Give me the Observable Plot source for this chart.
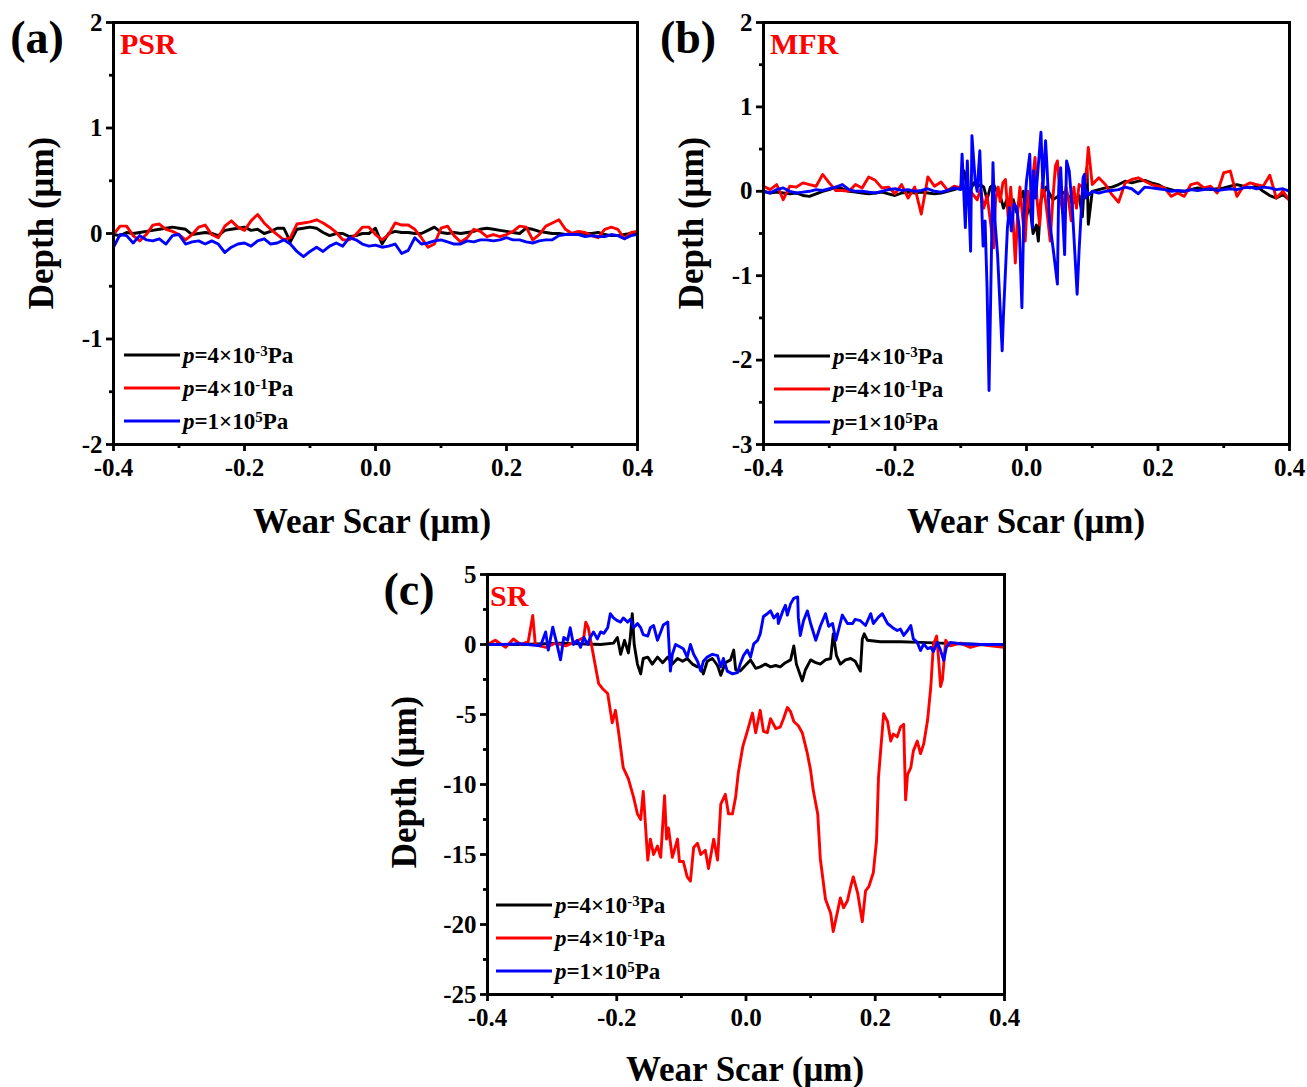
<!DOCTYPE html>
<html>
<head>
<meta charset="utf-8">
<script src="https://cdn.jsdelivr.net/npm/d3@7"></script>
<script src="https://cdn.jsdelivr.net/npm/@observablehq/plot@0.6"></script>
<style>
  html, body { margin: 0; padding: 0; background: #fff; overflow: hidden; }
  #page { position: relative; width: 1307px; height: 1087px; overflow: hidden;
          font-family: "Liberation Serif", "Times New Roman", serif; font-weight: bold; color: #000; }
  .t { position: absolute; white-space: nowrap; line-height: 1; }
  .leg { position: absolute; display: flex; align-items: center; white-space: nowrap; line-height: 1;
         transform: translateY(-50%); font-size: 23px; }
  .leg .ln { display: inline-block; width: 56px; height: 3px; margin-right: 3px; }
  .sup { font-size: 0.65em; position: relative; top: -0.5em; }
</style>
</head>
<body>
<div id="page"></div>
<script>
// ---------------- DATA ----------------
const seriesNames = ["p=4×10^-3 Pa", "p=4×10^-1 Pa", "p=1×10^5 Pa"];
const seriesColors = ["#000000", "#ff0000", "#0000ff"];
const xMajorTicks = [-0.4, -0.2, 0.0, 0.2, 0.4];
const xMinorTicks = [-0.3, -0.1, 0.1, 0.3];

// Panel (a) PSR — common x grid
const aX = [-0.40,-0.39,-0.38,-0.37,-0.36,-0.35,-0.34,-0.33,-0.32,-0.31,-0.30,-0.29,-0.28,-0.27,-0.26,-0.25,-0.24,-0.23,-0.22,-0.21,
  -0.20,-0.19,-0.18,-0.17,-0.16,-0.15,-0.14,-0.13,-0.12,-0.11,-0.10,-0.09,-0.08,-0.07,-0.06,-0.05,-0.04,-0.03,-0.02,-0.01,
  0.00,0.01,0.02,0.03,0.04,0.05,0.06,0.07,0.08,0.09,0.10,0.11,0.12,0.13,0.14,0.15,0.16,0.17,0.18,0.19,
  0.20,0.21,0.22,0.23,0.24,0.25,0.26,0.27,0.28,0.29,0.30,0.31,0.32,0.33,0.34,0.35,0.36,0.37,0.38,0.39,0.40];
const aBlack = [-0.01,-0.02,0.01,0.00,0.01,0.02,0.03,0.04,0.05,0.06,0.05,0.04,-0.01,0.00,0.01,0.00,-0.02,0.03,0.04,0.05,
  0.06,0.03,0.04,0.00,0.02,0.05,0.05,-0.08,0.04,0.05,0.06,0.05,0.01,-0.02,0.00,0.00,-0.03,-0.02,0.00,0.00,
  0.05,-0.10,0.00,0.02,0.01,0.01,0.00,0.00,0.03,0.06,0.01,0.00,0.01,0.00,0.01,0.02,0.04,0.05,0.04,0.03,
  0.02,0.01,0.00,0.05,0.04,0.02,0.01,0.00,0.00,-0.01,0.00,0.01,0.00,0.00,0.01,-0.01,-0.02,-0.02,-0.01,0.00,0.01];
const aRed = [-0.01,0.07,0.07,-0.02,-0.07,-0.01,0.08,0.09,0.04,0.02,-0.01,-0.06,-0.01,0.06,0.08,-0.01,-0.04,0.07,0.12,0.06,
  0.03,0.12,0.18,0.10,0.04,-0.01,-0.06,-0.04,0.09,0.10,0.11,0.13,0.10,0.06,0.01,-0.06,-0.06,-0.01,0.06,0.06,
  -0.01,-0.06,-0.01,0.10,0.08,0.08,0.04,-0.04,-0.13,-0.10,0.05,0.07,-0.02,-0.08,-0.04,0.04,0.02,-0.03,-0.01,-0.03,
  -0.01,0.02,0.07,0.06,-0.06,-0.01,0.07,0.10,0.13,0.04,0.00,0.02,0.01,-0.02,-0.04,0.04,0.06,0.04,-0.05,0.01,0.02];
const aBlue = [-0.13,-0.01,-0.02,-0.09,-0.02,-0.06,-0.07,-0.05,-0.10,-0.02,-0.01,-0.10,-0.08,-0.07,-0.10,-0.07,-0.10,-0.18,-0.13,-0.10,
  -0.09,-0.12,-0.07,-0.05,-0.10,-0.09,-0.06,-0.10,-0.17,-0.22,-0.17,-0.13,-0.17,-0.12,-0.09,-0.12,-0.04,-0.06,-0.10,-0.12,
  -0.11,-0.13,-0.12,-0.10,-0.19,-0.16,-0.04,-0.10,-0.09,-0.07,-0.06,-0.08,-0.10,-0.10,-0.07,-0.08,-0.06,-0.06,-0.07,-0.06,
  -0.04,-0.06,-0.06,-0.08,-0.09,-0.07,-0.06,-0.06,-0.02,-0.01,-0.01,-0.01,-0.03,-0.02,-0.03,-0.03,-0.01,-0.02,-0.05,-0.02,-0.01];

// Panel (b) MFR — flat outer grids + dense centre per series
const bLeftX = [-0.40,-0.39,-0.38,-0.37,-0.36,-0.35,-0.34,-0.33,-0.32,-0.31,-0.30,-0.29,-0.28,-0.27,-0.26,-0.25,
  -0.24,-0.23,-0.22,-0.21,-0.20,-0.19,-0.18,-0.17,-0.16,-0.15,-0.14,-0.13,-0.12,-0.11,-0.10];
const bRightX = [0.11,0.12,0.13,0.14,0.15,0.16,0.17,0.18,0.19,0.20,0.21,0.22,0.23,0.24,0.25,0.26,0.27,0.28,0.29,0.30,
  0.31,0.32,0.33,0.34,0.35,0.36,0.37,0.38,0.39,0.40];
const bBlackLeft = [0.00,-0.02,-0.01,-0.02,-0.03,-0.02,-0.05,-0.06,-0.03,0.00,0.02,0.05,0.03,0.00,-0.01,-0.02,
  -0.03,-0.02,-0.01,-0.03,-0.05,-0.02,-0.01,-0.02,-0.01,-0.02,-0.03,-0.02,0.00,0.02,0.05];
const bBlackMidX = [-0.095,-0.090,-0.085,-0.080,-0.075,-0.070,-0.065,-0.060,-0.055,-0.050,-0.045,-0.040,-0.035,-0.030,-0.025,
  -0.020,-0.015,-0.010,-0.005,0.000,0.005,0.010,0.015,0.018,0.022,0.030,0.040,0.050,0.060,0.070,0.080,0.085,0.088,0.092,0.094,0.097,0.100];
const bBlackMid = [0.24,0.05,0.02,0.10,0.05,0.08,0.05,-0.10,0.05,0.08,0.00,-0.05,-0.20,-0.10,-0.15,
  -0.10,-0.25,-0.10,0.00,-0.30,-0.15,-0.50,-0.40,-0.59,-0.10,0.05,-0.10,-0.05,0.00,-0.15,-0.05,-0.30,0.10,0.28,-0.39,-0.20,0.00];
const bBlackRight = [0.02,0.04,0.05,0.08,0.12,0.10,0.12,0.13,0.10,0.08,0.04,0.02,0.00,0.00,0.02,0.04,0.03,0.02,0.03,0.04,
  0.06,0.08,0.06,0.04,0.06,0.00,-0.05,-0.08,-0.04,-0.10];
const bRedLeft = [0.06,0.02,0.08,-0.10,0.06,0.05,0.10,0.08,0.06,0.20,0.10,0.01,0.01,0.00,0.08,0.04,
  0.17,0.13,0.04,0.05,-0.03,0.08,-0.08,0.05,-0.27,0.17,0.06,0.11,0.01,0.06,0.04];
const bRedMidX = [-0.095,-0.090,-0.085,-0.080,-0.075,-0.070,-0.065,-0.060,-0.055,-0.050,-0.047,-0.043,-0.040,-0.036,-0.032,
  -0.028,-0.024,-0.020,-0.017,-0.013,-0.010,-0.006,-0.002,0.002,0.006,0.010,0.013,0.016,0.020,0.024,0.028,0.032,0.036,
  0.040,0.044,0.047,0.051,0.055,0.060,0.064,0.068,0.072,0.076,0.080,0.085,0.090,0.094,0.097,0.100];
const bRedMid = [0.05,0.02,0.00,-0.05,-0.10,0.02,-0.20,-0.05,-0.35,-0.67,-0.10,0.05,-0.12,0.10,0.14,
  -0.30,0.05,-0.40,-0.85,-0.20,0.05,-0.30,-0.59,0.00,-0.20,0.20,0.40,-0.10,-0.40,0.10,-0.05,-0.30,-0.59,
  -0.10,0.30,0.36,-0.05,-0.25,0.05,-0.10,-0.35,0.05,-0.20,0.08,0.05,0.10,0.52,0.30,0.08];
const bRedRight = [0.16,0.08,-0.04,-0.13,0.10,0.14,0.16,0.12,0.08,0.06,0.04,-0.06,-0.02,-0.06,0.08,0.10,0.04,0.06,-0.02,0.22,
  0.24,-0.06,0.06,0.10,0.08,0.06,0.19,-0.08,0.00,-0.11];
const bBlueLeft = [0.00,-0.02,0.02,0.04,0.00,-0.02,-0.01,0.00,0.02,0.01,0.03,0.05,0.08,0.02,0.00,0.00,
  -0.01,-0.02,0.00,0.02,0.03,0.01,0.02,0.00,0.01,0.03,0.00,-0.01,0.01,0.04,0.02];
const bBlueMidX = [-0.098,-0.093,-0.090,-0.085,-0.083,-0.078,-0.075,-0.071,-0.066,-0.063,-0.060,-0.057,-0.055,-0.051,-0.048,
  -0.044,-0.037,-0.035,-0.029,-0.026,-0.023,-0.019,-0.015,-0.011,-0.007,-0.004,0.000,0.005,0.007,0.009,0.011,0.014,
  0.022,0.025,0.029,0.031,0.035,0.041,0.047,0.049,0.052,0.055,0.058,0.061,0.065,0.070,0.077,0.080,0.083,0.086,0.088,
  0.090,0.092,0.095,0.100];
const bBlueMid = [0.44,-0.43,0.36,-0.71,0.66,0.12,0.00,0.48,-0.65,-0.35,-1.14,-2.36,-1.50,0.34,-0.35,
  -0.75,-1.89,-1.46,-0.43,-0.19,-0.47,-0.15,-0.19,-0.43,-1.38,-0.27,0.12,0.44,-0.15,-0.43,0.24,-0.08,
  0.70,0.04,0.60,0.32,-0.35,-0.71,-1.10,0.04,0.28,-0.27,-0.75,0.36,0.24,-0.24,-1.22,-0.70,-0.27,0.16,0.20,
  -0.08,0.00,-0.04,0.00];
const bBlueRight = [-0.02,0.00,0.01,0.02,0.05,0.03,-0.03,0.05,0.04,0.03,0.02,0.00,0.01,0.00,0.02,0.01,0.02,0.03,0.01,0.02,
  0.03,0.02,0.04,0.05,0.03,0.05,0.04,0.02,0.03,0.00];

// Panel (c) SR — each series with its own x samples
const cBlackX = [-0.400,-0.349,-0.287,-0.225,-0.205,-0.199,-0.194,-0.188,-0.182,-0.179,
  -0.176,-0.173,-0.168,-0.163,-0.159,-0.152,-0.145,-0.137,-0.129,-0.121,
  -0.114,-0.106,-0.098,-0.091,-0.083,-0.075,-0.070,-0.066,-0.060,-0.052,
  -0.044,-0.039,-0.032,-0.024,-0.019,-0.016,-0.009,-0.001,0.007,0.015,
  0.022,0.030,0.038,0.046,0.053,0.061,0.069,0.074,0.078,0.084,
  0.087,0.092,0.100,0.108,0.115,0.123,0.131,0.135,0.140,0.146,
  0.154,0.162,0.169,0.177,0.180,0.183,0.188,0.208,0.239,0.270,
  0.301,0.332,0.363,0.400];
const cBlack = [0.0,0.0,0.1,0.0,0.1,0.5,-0.7,0.3,-0.6,0.5,
  2.2,0.0,-1.4,-2.1,-1.0,-0.9,-1.4,-0.9,-1.3,-0.9,
  -1.4,-1.0,-1.2,-1.0,-1.4,-1.6,-1.6,-2.1,-1.2,-1.0,
  -1.5,-2.2,-1.3,-1.1,-0.4,-1.8,-1.9,-1.5,-1.1,-1.7,
  -1.6,-1.4,-1.6,-1.5,-1.6,-1.3,-1.1,-0.1,-1.4,-2.2,
  -2.6,-1.8,-1.1,-1.3,-1.4,-1.1,-1.0,0.76,-0.8,-1.4,
  -1.1,-1.0,-1.2,-1.9,0.4,0.76,0.3,0.2,0.2,0.15,
  0.1,0.05,0.0,0.0];
const cRedX = [-0.400,-0.388,-0.372,-0.360,-0.349,-0.337,-0.330,-0.326,-0.310,-0.295,
  -0.279,-0.264,-0.251,-0.248,-0.244,-0.238,-0.228,-0.221,-0.214,-0.207,
  -0.202,-0.197,-0.190,-0.182,-0.174,-0.168,-0.163,-0.159,-0.152,-0.148,
  -0.143,-0.137,-0.132,-0.126,-0.123,-0.120,-0.114,-0.106,-0.103,-0.097,
  -0.091,-0.086,-0.081,-0.075,-0.070,-0.063,-0.058,-0.050,-0.044,-0.039,
  -0.032,-0.027,-0.021,-0.016,-0.012,-0.005,0.002,0.010,0.015,0.022,
  0.027,0.033,0.038,0.046,0.053,0.058,0.064,0.069,0.074,0.081,
  0.087,0.095,0.100,0.104,0.111,0.115,0.123,0.131,0.135,0.142,
  0.146,0.151,0.157,0.162,0.166,0.173,0.180,0.185,0.190,0.197,
  0.202,0.205,0.213,0.219,0.224,0.228,0.234,0.239,0.244,0.247,
  0.250,0.255,0.259,0.265,0.270,0.275,0.281,0.286,0.290,0.295,
  0.298,0.301,0.304,0.309,0.316,0.332,0.347,0.363,0.378,0.400];
const cRed = [0.0,0.3,-0.2,0.4,0.0,0.2,2.07,0.0,-0.2,0.1,
  -0.1,0.2,0.5,1.6,1.2,-0.3,-2.8,-3.2,-3.5,-5.6,
  -4.7,-6.3,-8.8,-9.6,-10.9,-12.1,-12.5,-10.5,-15.4,-13.9,
  -15.0,-14.4,-15.2,-10.8,-13.9,-13.1,-15.2,-13.9,-15.5,-15.5,
  -16.6,-16.9,-14.5,-14.2,-15.0,-14.7,-16.0,-13.9,-15.4,-11.4,
  -10.7,-12.1,-12.1,-10.9,-9.2,-7.3,-6.2,-4.9,-6.3,-4.7,
  -6.2,-6.3,-5.3,-6.0,-5.9,-5.3,-4.5,-4.8,-5.5,-5.8,
  -6.3,-7.8,-9.0,-10.4,-12.1,-15.3,-18.2,-19.2,-20.5,-19.0,
  -18.1,-18.8,-18.3,-17.3,-16.6,-17.8,-19.8,-17.6,-17.3,-16.3,
  -14.0,-9.5,-4.95,-5.5,-6.9,-6.4,-6.6,-5.9,-5.7,-11.1,
  -9.3,-8.8,-7.6,-6.9,-7.8,-7.1,-5.4,-3.0,0.0,0.6,
  -1.0,-3.0,-2.5,0.3,-0.1,0.1,-0.2,0.0,-0.1,-0.2];
const cBlueX = [-0.400,-0.380,-0.349,-0.318,-0.310,-0.306,-0.299,-0.293,-0.287,-0.282,
  -0.276,-0.272,-0.267,-0.261,-0.256,-0.251,-0.245,-0.241,-0.236,-0.230,
  -0.225,-0.220,-0.214,-0.210,-0.205,-0.199,-0.194,-0.190,-0.183,-0.179,
  -0.174,-0.168,-0.163,-0.159,-0.152,-0.148,-0.143,-0.137,-0.132,-0.128,
  -0.121,-0.117,-0.114,-0.109,-0.101,-0.097,-0.091,-0.086,-0.081,-0.075,
  -0.070,-0.066,-0.060,-0.052,-0.044,-0.039,-0.035,-0.029,-0.021,-0.013,
  -0.009,-0.004,0.002,0.007,0.012,0.018,0.022,0.027,0.033,0.038,
  0.043,0.049,0.050,0.057,0.061,0.064,0.069,0.074,0.080,0.081,
  0.084,0.089,0.095,0.100,0.108,0.115,0.123,0.128,0.134,0.139,
  0.143,0.149,0.157,0.165,0.169,0.177,0.185,0.193,0.197,0.205,
  0.211,0.219,0.227,0.234,0.239,0.244,0.250,0.255,0.259,0.265,
  0.270,0.275,0.281,0.286,0.290,0.296,0.301,0.306,0.310,0.316,
  0.332,0.363,0.400];
const cBlue = [0.0,0.0,0.05,-0.1,0.9,-0.4,1.24,0.1,-1.1,0.5,
  0.3,1.2,0.0,0.3,-0.2,0.5,0.0,0.5,0.9,0.4,
  0.9,0.8,1.2,2.2,1.9,1.7,1.6,1.9,1.6,1.8,
  1.2,1.5,1.2,0.7,0.6,1.2,1.36,0.3,0.9,1.4,
  1.6,-1.9,-0.7,0.0,-0.2,-0.3,-0.9,0.0,-0.7,-1.2,
  -1.9,-1.2,-0.9,-0.7,-0.8,-1.6,-1.0,-1.9,-2.1,-2.0,
  -1.4,-0.8,-0.4,-0.9,0.05,0.3,0.76,2.0,2.2,2.4,
  1.9,2.2,1.5,2.4,2.8,2.1,2.9,3.3,3.4,1.9,
  0.64,1.7,2.4,1.5,0.3,1.3,2.2,1.3,1.5,0.3,
  1.0,2.1,1.5,1.5,1.8,1.7,1.36,2.2,1.5,1.95,
  2.2,1.5,1.2,1.0,1.1,0.65,1.0,1.36,0.4,0.15,
  -0.43,0.05,-0.3,-0.2,-0.5,0.15,-0.4,-1.14,-0.2,0.15,
  0.05,0.0,0.0];

// ---------------- DRAWING ----------------
const page = document.getElementById("page");
const FONT = '"Liberation Serif", "Times New Roman", serif';

function toRows(xs, ys) {
  const n = Math.min(xs.length, ys.length);
  const out = [];
  for (let i = 0; i < n; i++) out.push({x: xs[i], y: ys[i]});
  return out;
}

function makePanel(cfg) {
  const [L, T, R, B] = cfg.frame;
  const ml = 72, mr = cfg.mr ?? 30, mt = 16, mb = 50;
  const chart = Plot.plot({
    width: (R - L) + ml + mr,
    height: (B - T) + mt + mb,
    marginLeft: ml, marginRight: mr, marginTop: mt, marginBottom: mb,
    x: {domain: [-0.4, 0.4]},
    y: {domain: cfg.yDomain},
    style: {fontFamily: FONT, fontWeight: "bold", fontSize: "24px", background: "transparent", color: "#000", overflow: "visible"},
    marks: [
      ...cfg.series.map((s, i) => Plot.line(toRows(s.x, s.y), {
        x: "x", y: "y", stroke: seriesColors[i], strokeWidth: 2.9, clip: true
      })),
      Plot.frame({stroke: "#000", strokeWidth: 3}),
      Plot.axisX(xMajorTicks, {tickSize: 7, tickPadding: 7, strokeWidth: 2.8, fontSize: 25,
        tickFormat: d => d.toFixed(1), label: null}),
      Plot.axisX(xMinorTicks, {tickSize: 4, strokeWidth: 2.8, tickFormat: () => "", label: null}),
      Plot.axisY(cfg.yMajor, {tickSize: 7, tickPadding: 4, strokeWidth: 2.8, fontSize: 25,
        tickFormat: d => String(d), label: null}),
      Plot.axisY(cfg.yMinor, {tickSize: 4, strokeWidth: 2.8, tickFormat: () => "", label: null})
    ]
  });
  chart.style.position = "absolute";
  chart.style.left = (L - ml) + "px";
  chart.style.top = (T - mt) + "px";
  page.appendChild(chart);

  addText(cfg.letter, cfg.letterPos[0], cfg.letterPos[1], 46, "#000", "center");
  addText(cfg.tag, cfg.tagPos[0], cfg.tagPos[1], 30, "#ff0000", "left");
  addText("Wear Scar (μm)", cfg.xTitlePos[0], cfg.xTitlePos[1], 35, "#000", "center");
  addText("Depth (μm)", cfg.yTitlePos[0], cfg.yTitlePos[1], 35, "#000", "center", true);

  const legendText = [
    '<i>p</i>=4×10<span class="sup">-3</span>Pa',
    '<i>p</i>=4×10<span class="sup">-1</span>Pa',
    '<i>p</i>=1×10<span class="sup">5</span>Pa'
  ];
  cfg.legendRows.forEach((yy, i) => {
    const d = document.createElement("div");
    d.className = "leg";
    d.style.left = cfg.legendLeft + "px";
    d.style.top = yy + "px";
    d.innerHTML = `<span class="ln" style="background:${seriesColors[i]}"></span><span>${legendText[i]}</span>`;
    page.appendChild(d);
  });
}

function addText(txt, x, y, size, color, anchor, rotate) {
  const d = document.createElement("div");
  d.className = "t";
  d.textContent = txt;
  d.style.fontSize = size + "px";
  d.style.color = color;
  d.style.left = x + "px";
  d.style.top = y + "px";
  let tr = anchor === "center" ? "translate(-50%,-50%)" : "translate(0,-50%)";
  if (rotate) tr += " rotate(-90deg)";
  d.style.transform = tr;
  page.appendChild(d);
}

makePanel({
  frame: [113, 22, 637, 444],
  yDomain: [-2, 2], yMajor: [-2, -1, 0, 1, 2], yMinor: [-1.5, -0.5, 0.5, 1.5],
  series: [{x: aX, y: aBlack}, {x: aX, y: aRed}, {x: aX, y: aBlue}],
  letter: "(a)", letterPos: [37, 38], tag: "PSR", tagPos: [120, 44],
  xTitlePos: [372, 521], yTitlePos: [41, 223],
  legendLeft: 124, legendRows: [355, 388, 421]
});

makePanel({
  frame: [763, 22, 1289, 444], mr: 18,
  yDomain: [-3, 2], yMajor: [-3, -2, -1, 0, 1, 2], yMinor: [-2.5, -1.5, -0.5, 0.5, 1.5],
  series: [
    {x: [...bLeftX, ...bBlackMidX, ...bRightX], y: [...bBlackLeft, ...bBlackMid, ...bBlackRight]},
    {x: [...bLeftX, ...bRedMidX, ...bRightX], y: [...bRedLeft, ...bRedMid, ...bRedRight]},
    {x: [...bLeftX, ...bBlueMidX, ...bRightX], y: [...bBlueLeft, ...bBlueMid, ...bBlueRight]}
  ],
  letter: "(b)", letterPos: [688, 38], tag: "MFR", tagPos: [770, 44],
  xTitlePos: [1026, 521], yTitlePos: [691, 223],
  legendLeft: 774, legendRows: [356, 389, 422]
});

makePanel({
  frame: [487, 574, 1004, 994],
  yDomain: [-25, 5], yMajor: [-25, -20, -15, -10, -5, 0, 5], yMinor: [-22.5, -17.5, -12.5, -7.5, -2.5, 2.5],
  series: [{x: cBlackX, y: cBlack}, {x: cRedX, y: cRed}, {x: cBlueX, y: cBlue}],
  letter: "(c)", letterPos: [409, 590], tag: "SR", tagPos: [490, 596],
  xTitlePos: [745, 1069], yTitlePos: [404, 782],
  legendLeft: 496, legendRows: [905, 938, 971]
});
</script>
</body>
</html>
